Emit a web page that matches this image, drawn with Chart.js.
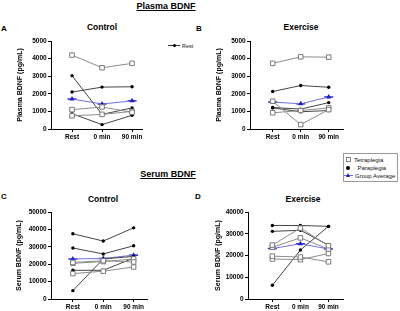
<!DOCTYPE html>
<html>
<head>
<meta charset="utf-8">
<script src="https://cdn.jsdelivr.net/npm/chart.js@4/dist/chart.umd.min.js"></script>
<style>
  html, body { margin: 0; padding: 0; background: #fff; }
  body { width: 400px; height: 311px; position: relative; overflow: hidden; font-family: "Liberation Sans", Arial, sans-serif; }
  .t { position: absolute; transform: translate(-50%, -50%); white-space: nowrap; color: #000; font-weight: bold; }
  .l { position: absolute; transform: translateY(-50%); white-space: nowrap; color: #111; font-size: 6px; }
  canvas { position: absolute; }
</style>
</head>
<body>
<div class="t" style="left:166px; top:6px; font-size:9px; text-decoration:underline;">Plasma BDNF</div>
<div class="t" style="left:168px; top:174px; font-size:9px; text-decoration:underline;">Serum BDNF</div>
<div class="t" style="left:4px; top:28px; font-size:8px;">A</div>
<div class="t" style="left:199px; top:28px; font-size:8px;">B</div>
<div class="t" style="left:4px; top:196px; font-size:8px;">C</div>
<div class="t" style="left:198px; top:196px; font-size:8px;">D</div>
<div class="t" style="left:102px; top:27px; font-size:8.5px;">Control</div>
<div class="t" style="left:301px; top:27px; font-size:8.5px;">Exercise</div>
<div class="t" style="left:103px; top:199px; font-size:8.5px;">Control</div>
<div class="t" style="left:303px; top:199px; font-size:8.5px;">Exercise</div>

<!-- stray "Rest" key in panel A -->
<div style="position:absolute; left:168px; top:45px; width:12px; height:1px; background:#333;"></div>
<div style="position:absolute; left:172.5px; top:43.5px; width:3px; height:3px; border-radius:50%; background:#000;"></div>
<div class="l" style="left:182px; top:45.5px; font-size:5.5px;">Rest</div>

<!-- legend -->
<div style="position:absolute; left:343px; top:153px; width:55px; height:29px; border:1px solid #9a9a9a; box-sizing:border-box;"></div>
<div style="position:absolute; left:345.5px; top:157px; width:3px; height:3px; border:1px solid #808080; background:#fff;"></div>
<div class="l" style="left:354px; top:159.5px;">Tetraplegia</div>
<div style="position:absolute; left:345.5px; top:165.5px; width:4px; height:4px; border-radius:50%; background:#000;"></div>
<div class="l" style="left:357.5px; top:167.5px;">Paraplegia</div>
<div style="position:absolute; left:344px; top:175px; width:9px; height:1px; background:#6a6ae0;"></div>
<div style="position:absolute; left:345.5px; top:172.5px; width:0; height:0; border-left:2.5px solid transparent; border-right:2.5px solid transparent; border-bottom:4px solid #1f1fc8;"></div>
<div class="l" style="left:355px; top:175.5px;">Group Average</div>

<canvas id="plasmaControl" width="160" height="111" style="left:0px; top:30px;"></canvas>
<canvas id="plasmaExercise" width="160" height="111" style="left:200px; top:30px;"></canvas>
<canvas id="serumControl" width="160" height="111" style="left:0px; top:200px;"></canvas>
<canvas id="serumExercise" width="160" height="111" style="left:197px; top:200px;"></canvas>

<script>
// time points on the x axis
const timepoints = ["Rest", "0 min", "90 min"]

// Plasma BDNF (pg/mL), control day
const plasmaControlTetra = [[4200, 3480, 3730], [1100, 1250, 950], [750, 830, 1000]]
const plasmaControlPara = [[3030, 830, 1200], [2100, 2380, 2400], [870, 250, 780]]
const plasmaControlAvg = [1700, 1420, 1600]

// Plasma BDNF (pg/mL), exercise day
const plasmaExerciseTetra = [[3730, 4100, 4080], [1580, 250, 1100], [920, 1050, 1200]]
const plasmaExercisePara = [[2130, 2470, 2370], [1220, 1130, 1500], [1200, 980, 1050]]
const plasmaExerciseAvg = [1530, 1430, 1820]

// Serum BDNF (pg/mL), control day
const serumControlTetra = [[21000, 22000, 21300], [20500, 21500, 23000], [14600, 16000, 18400]]
const serumControlPara = [[37500, 33300, 40900], [29300, 25900, 30600], [16500, 16500, 23500], [4800, 23000, 24500]]
const serumControlAvg = [23000, 23300, 25200]

// Serum BDNF (pg/mL), exercise day
const serumExerciseTetra = [[24800, 32600, 24500], [23800, 28100, 23000], [19700, 19300, 17100], [18400, 18100, 20900]]
const serumExercisePara = [[33800, 33800, 33400], [31100, 31600, 24800], [6300, 22500, 33400]]
const serumExerciseAvg = [23200, 25400, 23000]

const FONT = "'Liberation Sans', Arial, sans-serif"
const toPts = arr => arr.map((v, i) => ({ x: i, y: v }))

function makePanel(id, tetra, para, avg, opt) {
  const datasets = []
  tetra.forEach(s => datasets.push({
    data: toPts(s), borderColor: "#8c8c8c", borderWidth: 1,
    pointStyle: "rect", pointRadius: 3.2, pointBorderColor: "#7a7a7a",
    pointBackgroundColor: "#fff", pointBorderWidth: 1,
  }))
  para.forEach(s => datasets.push({
    data: toPts(s), borderColor: "#444", borderWidth: 1,
    pointStyle: "circle", pointRadius: 1.7, pointBorderWidth: 0,
    pointBackgroundColor: "#000",
  }))
  datasets.push({
    data: toPts(avg), borderColor: "#7070e0", borderWidth: 1,
    pointStyle: "triangle", pointRadius: 3, pointBorderWidth: 0,
    pointBackgroundColor: "#1f1fc8",
  })
  datasets.push({
    data: toPts(avg), showLine: false,
    pointStyle: "line", pointRadius: 4.5, pointBorderWidth: 1.5,
    pointBorderColor: "#2a2ad0",
  })

  return new Chart(document.getElementById(id), {
    type: "line",
    data: { datasets },
    options: {
      responsive: false,
      animation: false,
      devicePixelRatio: 1,
      layout: { padding: { top: opt.padTop, right: opt.padRight, left: 0, bottom: 0 } },
      plugins: { legend: { display: false }, tooltip: { enabled: false } },
      elements: { line: { tension: 0 } },
      scales: {
        x: {
          type: "linear", min: opt.xMin, max: opt.xMax,
          afterBuildTicks: s => { s.ticks = timepoints.map((_, i) => ({ value: i })) },
          afterFit: s => { s.height = 12 },
          grid: { display: true, drawOnChartArea: false, drawTicks: true, tickLength: 3, color: "#000" },
          border: { display: true, color: "#000", width: 1 },
          ticks: {
            callback: v => timepoints[v], padding: 1, maxRotation: 0,
            color: "#000", font: { family: FONT, size: 6.5, weight: "bold" },
          },
        },
        y: {
          min: 0, max: opt.yMax,
          afterFit: s => { s.width = opt.yWidth },
          grid: { display: true, drawOnChartArea: false, drawTicks: true, tickLength: 3, color: "#000" },
          border: { display: true, color: "#000", width: 1 },
          ticks: {
            stepSize: opt.yStep, callback: v => String(v), padding: 1.3,
            color: "#000", font: { family: FONT, size: 6.5, weight: "bold" },
          },
          title: {
            display: true, text: opt.yTitle, color: "#000",
            padding: { top: opt.titlePad, bottom: 0 },
            font: { family: FONT, size: 7, weight: "bold" },
          },
        },
      },
    },
  })
}

makePanel("plasmaControl", plasmaControlTetra, plasmaControlPara, plasmaControlAvg, {
  yMax: 5000, yStep: 1000, xMin: -0.70, xMax: 2.33, yTitle: "Plasma BDNF (pg/mL)",
  yWidth: 51, padTop: 11, padRight: 18, titlePad: 15.5,
})
makePanel("plasmaExercise", plasmaExerciseTetra, plasmaExercisePara, plasmaExerciseAvg, {
  yMax: 5000, yStep: 1000, xMin: -0.81, xMax: 2.51, yTitle: "Plasma BDNF (pg/mL)",
  yWidth: 50, padTop: 11, padRight: 17, titlePad: 14.8,
})
makePanel("serumControl", serumControlTetra, serumControlPara, serumControlAvg, {
  yMax: 50000, yStep: 10000, xMin: -0.72, xMax: 2.44, yTitle: "Serum BDNF (pg/mL)",
  yWidth: 51, padTop: 12, padRight: 13, titlePad: 14.8,
})
makePanel("serumExercise", serumExerciseTetra, serumExercisePara, serumExerciseAvg, {
  yMax: 40000, yStep: 10000, xMin: -0.87, xMax: 2.52, yTitle: "Serum BDNF (pg/mL)",
  yWidth: 51, padTop: 12, padRight: 14, titlePad: 17,
})
</script>
</body>
</html>
